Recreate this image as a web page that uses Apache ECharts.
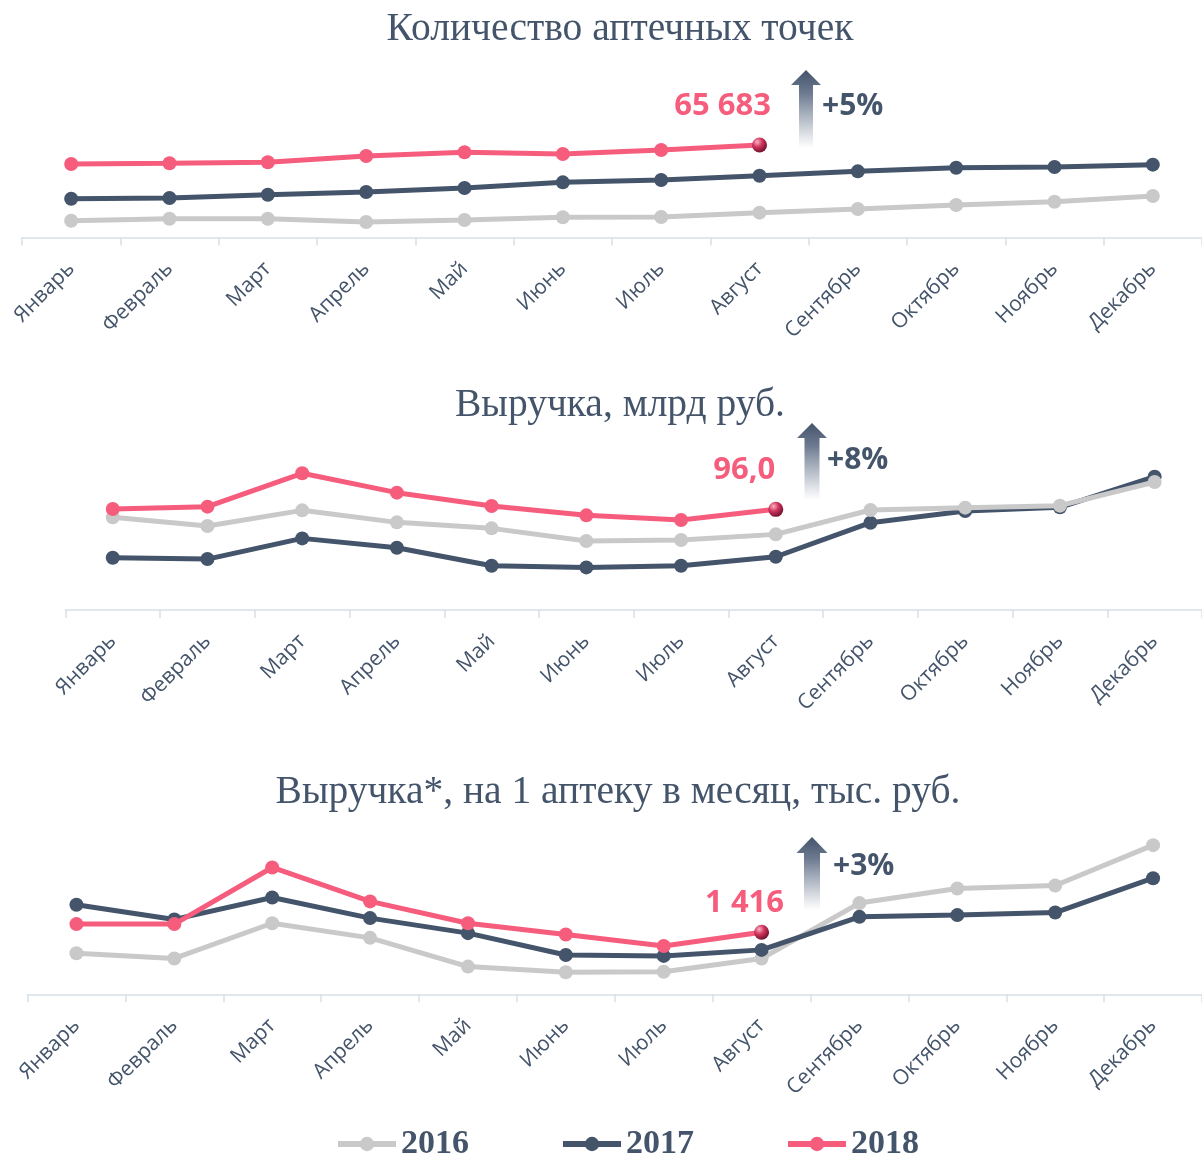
<!DOCTYPE html>
<html>
<head>
<meta charset="utf-8">
<script src="https://cdn.jsdelivr.net/npm/echarts@6/dist/echarts.min.js"></script>
<style>
  html, body { margin: 0; padding: 0; background: #fff; }
  #main { width: 1202px; height: 1155px; }
</style>
</head>
<body>
<div id="main"></div>
<script>
var months = ['Январь', 'Февраль', 'Март', 'Апрель', 'Май', 'Июнь', 'Июль', 'Август', 'Сентябрь', 'Октябрь', 'Ноябрь', 'Декабрь'];
var years = ['2016', '2017', '2018'];

// Количество аптечных точек
var points2016 = [57970, 58170, 58170, 57840, 58040, 58320, 58350, 58790, 59160, 59570, 59900, 60490];
var points2017 = [60210, 60280, 60620, 60890, 61300, 61880, 62120, 62555, 63000, 63370, 63440, 63680];
var points2018 = [63750, 63820, 63920, 64560, 64940, 64770, 65170, 65683];

// Выручка, млрд руб.
var revenue2016 = [94.8, 93.5, 95.85, 94.05, 93.15, 91.25, 91.4, 92.25, 95.9, 96.25, 96.55, 100.1];
var revenue2017 = [88.75, 88.55, 91.65, 90.25, 87.55, 87.3, 87.55, 88.9, 94.0, 95.75, 96.3, 100.9];
var revenue2018 = [96.05, 96.4, 101.4, 98.5, 96.5, 95.1, 94.4, 96.0];

// Выручка на 1 аптеку в месяц, тыс. руб.
var perPharmacy2016 = [1367, 1355, 1437, 1403, 1336, 1323, 1324, 1355, 1484, 1518, 1525, 1619];
var perPharmacy2017 = [1480, 1446, 1497, 1449, 1414, 1363, 1361, 1375, 1452, 1456, 1462, 1542];
var perPharmacy2018 = [1435, 1435, 1567, 1488, 1437, 1411, 1384, 1416];

var titles = ['Количество аптечных точек', 'Выручка, млрд руб.', 'Выручка*, на 1 аптеку в месяц, тыс. руб.'];
var growth = ['+5%', '+8%', '+3%'];

var colors = { '2016': '#C9C9C9', '2017': '#44546A', '2018': '#F65D7D' };
var textColor = '#44546A';
var axisColor = '#D9DEE8';

var chart = echarts.init(document.getElementById('main'));

function spaced(v) {
    return String(Math.round(v)).replace(/\B(?=(\d{3})+(?!\d))/g, ' ');
}
function comma(v) {
    return v.toFixed(1).replace('.', ',');
}

function xAxisFor(i) {
    return {
        type: 'category',
        gridIndex: i,
        data: months,
        boundaryGap: true,
        axisLine: { lineStyle: { color: axisColor, width: 1.5 } },
        axisTick: { show: true, length: 8, lineStyle: { color: axisColor, width: 1.5 } },
        axisLabel: {
            rotate: 45,
            margin: 28,
            interval: 0,
            color: textColor,
            fontFamily: 'Open Sans',
            fontSize: 21
        },
        splitLine: { show: false }
    };
}

function yAxisFor(i, min, max) {
    return { type: 'value', gridIndex: i, min: min, max: max, show: false, splitLine: { show: false } };
}

// last 2018 point: a glossy ball with the value label
function withEndPoint(values, fmt, offset) {
    return values.map(function (v, idx) {
        if (idx !== values.length - 1) return v;
        return {
            value: v,
            symbolSize: 15,
            itemStyle: {
                color: {
                    type: 'radial', x: 0.35, y: 0.3, r: 0.75,
                    colorStops: [
                        { offset: 0, color: '#F9B3C4' },
                        { offset: 0.45, color: '#D0345C' },
                        { offset: 1, color: '#6A0E2A' }
                    ]
                }
            },
            label: {
                show: true,
                position: 'left',
                offset: offset,
                formatter: function (p) { return fmt(p.value); },
                color: colors['2018'],
                fontFamily: 'Open Sans',
                fontWeight: 'bold',
                fontSize: 31
            }
        };
    });
}

function lineSeries(name, gridIdx, data, z) {
    return {
        name: name,
        type: 'line',
        xAxisIndex: gridIdx,
        yAxisIndex: gridIdx,
        data: data,
        z: z,
        symbol: 'circle',
        symbolSize: 14,
        showSymbol: true,
        color: colors[name],
        lineStyle: { width: 5, color: colors[name] },
        itemStyle: { color: colors[name] },
        emphasis: { disabled: true },
        animation: false
    };
}

function arrow(tipX, tipY, headHalf, headBottom, shaftHalf, bottom) {
    return {
        type: 'polygon',
        shape: {
            points: [
                [tipX, tipY],
                [tipX + headHalf, headBottom],
                [tipX + shaftHalf, headBottom],
                [tipX + shaftHalf, bottom],
                [tipX - shaftHalf, bottom],
                [tipX - shaftHalf, headBottom],
                [tipX - headHalf, headBottom]
            ]
        },
        style: {
            fill: {
                type: 'linear', x: 0, y: 0, x2: 0, y2: 1,
                colorStops: [
                    { offset: 0, color: '#44546A' },
                    { offset: 0.3, color: '#6D7B91' },
                    { offset: 1, color: 'rgba(255,255,255,0.9)' }
                ]
            }
        }
    };
}

function label(text, x, y, opts) {
    return {
        type: 'text',
        x: x, y: y,
        style: Object.assign({
            text: text,
            fill: textColor,
            verticalAlign: 'middle'
        }, opts)
    };
}

var titleStyle = { fontFamily: 'Liberation Serif', fontSize: 39.5, align: 'center' };
var pctStyle = { fontFamily: 'Open Sans', fontWeight: 'bold', fontSize: 30, align: 'left' };

option = {
    animation: false,
    backgroundColor: '#fff',
    grid: [
        { left: 22, top: 110, width: 1187, height: 127.5 },
        { left: 65.4, top: 450, width: 1142.4, height: 160 },
        { left: 27.5, top: 830, width: 1183, height: 164.3 }
    ],
    xAxis: [xAxisFor(0), xAxisFor(1), xAxisFor(2)],
    yAxis: [
        yAxisFor(0, 56260, 69250),
        yAxisFor(1, 80.92, 104.89),
        yAxisFor(2, 1271.5, 1654.3)
    ],
    legend: {
        data: years,
        left: 330,
        top: 1122,
        itemWidth: 58,
        itemHeight: 18,
        itemGap: 91,
        lineStyle: { width: 6 },
        textStyle: {
            color: textColor,
            fontFamily: 'Liberation Serif',
            fontWeight: 'bold',
            fontSize: 34
        }
    },
    series: [
        lineSeries('2016', 0, points2016, 2),
        lineSeries('2017', 0, points2017, 3),
        lineSeries('2018', 0, withEndPoint(points2018, spaced, [24, -39]), 4),

        lineSeries('2017', 1, revenue2017, 2),
        lineSeries('2016', 1, revenue2016, 3),
        lineSeries('2018', 1, withEndPoint(revenue2018, comma, [12, -39]), 4),

        lineSeries('2016', 2, perPharmacy2016, 2),
        lineSeries('2017', 2, perPharmacy2017, 3),
        lineSeries('2018', 2, withEndPoint(perPharmacy2018, spaced, [35, -29]), 4)
    ],
    graphic: [
        label(titles[0], 620, 30, titleStyle),
        label(titles[1], 620, 406, titleStyle),
        label(titles[2], 618, 793, titleStyle),

        arrow(806, 70, 15, 85, 7, 148),
        arrow(812, 423, 15, 438, 7.5, 500),
        arrow(812, 837, 15.5, 853, 8, 910),

        label(growth[0], 822, 106, pctStyle),
        label(growth[1], 827, 460, pctStyle),
        label(growth[2], 833, 866, pctStyle)
    ]
};

option && chart.setOption(option);
</script>
</body>
</html>
